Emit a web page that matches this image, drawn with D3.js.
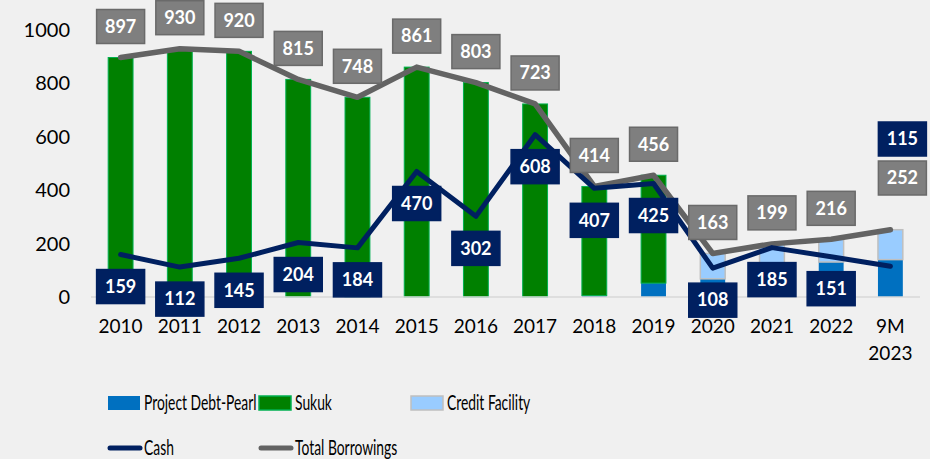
<!DOCTYPE html>
<html>
<head>
<meta charset="utf-8">
<script src="https://cdn.jsdelivr.net/npm/d3@7"></script>
<style>
    body { margin: 0; background: #f0f0f0; }
    svg { display: block; font-family: Lato, "Open Sans", sans-serif; }
</style>
</head>
<body>
<svg id="chart"></svg>
<script>
// chart data
var years = ["2010", "2011", "2012", "2013", "2014", "2015", "2016", "2017", "2018", "2019", "2020", "2021", "2022", "9M 2023"];
var pearl = [0, 0, 0, 0, 0, 0, 0, 0, 5, 52, 68, 118, 131, 140];
var sukuk = [897, 930, 920, 815, 748, 861, 803, 723, 409, 404, 0, 0, 0, 0];
var credit = [0, 0, 0, 0, 0, 0, 0, 0, 0, 0, 95, 81, 85, 112];
var cash = [159, 112, 145, 204, 184, 470, 302, 608, 407, 425, 108, 185, 151, 115];
var total = [897, 930, 920, 815, 748, 861, 803, 723, 414, 456, 163, 199, 216, 252];
var yTicks = [0, 200, 400, 600, 800, 1000];

var width = 930,
    height = 459;

var svg = d3.select("#chart")
    .attr("width", width)
    .attr("height", height);

svg.append("rect")
    .attr("width", width)
    .attr("height", height)
    .attr("fill", "#f0f0f0");

var x = d3.scalePoint().domain(years).range([91, 920]).padding(0.5);
var y = d3.scaleLinear().domain([0, 1000]).range([297, 30]);
var barWidth = x.step() * 0.42;

// y axis labels, no axis line
var yAxis = svg.append("g")
    .attr("transform", "translate(70,0)")
    .call(d3.axisLeft(y).tickValues(yTicks).tickSize(0).tickPadding(0).tickFormat(d3.format("d")));
yAxis.select(".domain").remove();
yAxis.selectAll("text")
    .attr("font-size", 20)
    .attr("font-family", "Lato, sans-serif")
    .attr("fill", "#000");

// stacked bars
var rows = years.map(function(yr, i) {
    return { year: yr, pearl: pearl[i], sukuk: sukuk[i], credit: credit[i] };
});
var stack = d3.stack().keys(["pearl", "sukuk", "credit"])(rows);
var fills = { pearl: "#0070c0", sukuk: "#008000", credit: "#99ccff" };
var strokes = { pearl: "none", sukuk: "#00b050", credit: "#bfbfbf" };

stack.forEach(function(layer) {
    svg.append("g").selectAll("rect")
        .data(layer.filter(function(d) { return d[1] - d[0] > 0; }))
        .enter()
        .append("rect")
        .attr("x", function(d) { return x(d.data.year) - barWidth / 2; })
        .attr("y", function(d) { return y(d[1]); })
        .attr("width", barWidth)
        .attr("height", function(d) { return y(d[0]) - y(d[1]); })
        .attr("fill", fills[layer.key])
        .attr("stroke", strokes[layer.key])
        .attr("stroke-width", layer.key == "credit" ? 1.5 : 1);
});

// category axis line
svg.append("line")
    .attr("x1", 91).attr("x2", 920)
    .attr("y1", y(0)).attr("y2", y(0))
    .attr("stroke", "#d9d9d9")
    .attr("stroke-width", 1.5);

// x labels
var xl = svg.append("g").selectAll("text")
    .data(years).enter()
    .append("text")
    .attr("text-anchor", "middle")
    .attr("font-size", 19)
    .attr("fill", "#000");
xl.each(function(d) {
    var parts = d.split(" ");
    var t = d3.select(this);
    parts.forEach(function(p, k) {
        t.append("tspan")
            .attr("x", x(d))
            .attr("y", 333 + k * 27)
            .text(p);
    });
});

// lines
var line = d3.line()
    .x(function(d, i) { return x(years[i]); })
    .y(function(d) { return y(d); });

svg.append("path")
    .attr("d", line(total))
    .attr("fill", "none")
    .attr("stroke", "#636363")
    .attr("stroke-width", 5.5)
    .attr("stroke-linejoin", "round")
    .attr("stroke-linecap", "round");

svg.append("path")
    .attr("d", line(cash))
    .attr("fill", "none")
    .attr("stroke", "#002060")
    .attr("stroke-width", 5)
    .attr("stroke-linejoin", "round")
    .attr("stroke-linecap", "round");

// data label boxes (last one of each series was moved by hand in the original)
function labels(values, dy, fill, stroke, last) {
    var g = svg.append("g").selectAll("g")
        .data(values).enter()
        .append("g")
        .attr("transform", function(d, i) {
            var cx = x(years[i]), cy = y(d) + dy;
            if (i == values.length - 1) { cx += 12; cy = last; }
            return "translate(" + cx + "," + cy + ")";
        });
    g.append("rect")
        .attr("x", -24).attr("y", -17)
        .attr("width", 48).attr("height", 34)
        .attr("fill", fill)
        .attr("stroke", stroke)
        .attr("stroke-width", 1.5);
    g.append("text")
        .attr("text-anchor", "middle")
        .attr("dy", "0.35em")
        .attr("font-size", 18)
        .attr("font-weight", "bold")
        .attr("fill", "#fff")
        .text(function(d) { return d; });
}
labels(total, -31, "#7f7f7f", "#6a6a6a", 178);
labels(cash, 32, "#002060", "#002060", 139);

// legend - text is condensed like the original
var leg = svg.append("g").attr("font-size", 21).attr("fill", "#000");
var squeeze = 0.66;
var boxes = [
    { name: "Project Debt-Pearl", x: 108, fill: fills.pearl, stroke: "none" },
    { name: "Sukuk", x: 259, fill: fills.sukuk, stroke: strokes.sukuk },
    { name: "Credit Facility", x: 411, fill: fills.credit, stroke: strokes.credit }
];
boxes.forEach(function(b) {
    leg.append("rect")
        .attr("x", b.x).attr("y", 396)
        .attr("width", 32).attr("height", 14)
        .attr("fill", b.fill)
        .attr("stroke", b.stroke)
        .attr("stroke-width", 1.5);
    leg.append("text")
        .attr("transform", "translate(" + (b.x + 36) + ",410) scale(" + squeeze + ",1)")
        .text(b.name);
});
var lineKeys = [
    { name: "Cash", x: 108, color: "#002060" },
    { name: "Total Borrowings", x: 259, color: "#636363" }
];
lineKeys.forEach(function(b) {
    leg.append("line")
        .attr("x1", b.x + 2).attr("x2", b.x + 32)
        .attr("y1", 448).attr("y2", 448)
        .attr("stroke", b.color)
        .attr("stroke-width", 5)
        .attr("stroke-linecap", "round");
    leg.append("text")
        .attr("transform", "translate(" + (b.x + 36) + ",455) scale(" + squeeze + ",1)")
        .text(b.name);
});
</script>
</body>
</html>
